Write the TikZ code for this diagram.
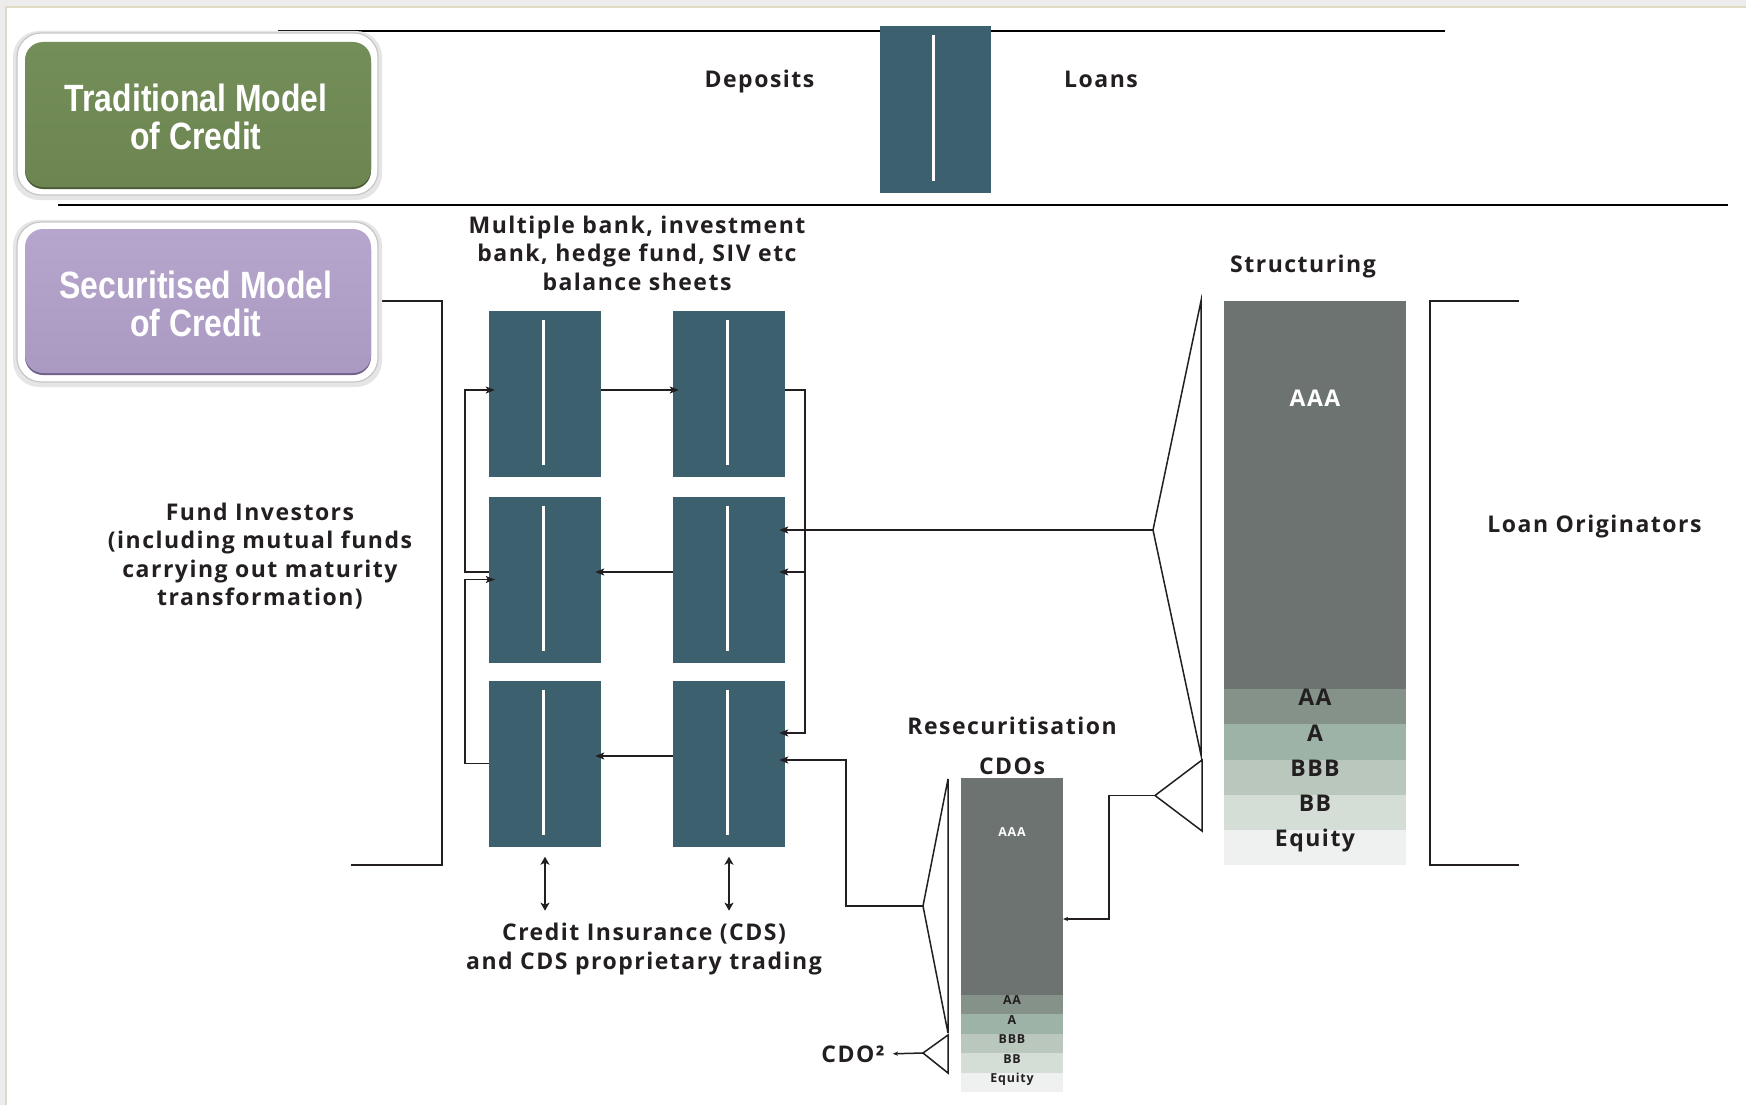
\documentclass[tikz,border=0pt]{standalone}
\usepackage{fontspec}
\usetikzlibrary{arrows.meta}
\newfontfamily\lblfont{Open Sans}[LetterSpace=6.5]
\newfontfamily\headfont{Liberation Sans}[FakeStretch=0.84]

\definecolor{ink}{RGB}{35,31,32}
\definecolor{bankblue}{RGB}{61,96,111}
\definecolor{trAAA}{RGB}{108,115,112}
\definecolor{trAA}{RGB}{132,146,138}
\definecolor{trA}{RGB}{157,179,167}
\definecolor{trBBB}{RGB}{185,199,189}
\definecolor{trBB}{RGB}{212,222,215}
\definecolor{trEq}{RGB}{238,241,239}
\definecolor{hgreen}{RGB}{108,133,81}
\definecolor{hgreenTop}{RGB}{116,142,89}
\definecolor{hgreenDark}{RGB}{74,92,55}
\definecolor{hpurple}{RGB}{170,153,193}
\definecolor{hpurpleTop}{RGB}{182,166,205}
\definecolor{hpurpleDark}{RGB}{112,96,138}
\definecolor{framegray}{RGB}{236,236,236}
\definecolor{frametan}{RGB}{224,220,196}

\begin{document}
\begin{tikzpicture}[x=1pt,y=-1pt,
  lbl/.style={font=\lblfont\bfseries\fontsize{23}{28.5}\selectfont, text=ink, align=center, inner sep=0pt},
  trlbl/.style={lbl, anchor=base},
  tinylbl/.style={font=\lblfont\bfseries\fontsize{12.4}{14}\selectfont, text=ink, inner sep=0pt, anchor=base},
  bank/.style={fill=bankblue, minimum width=112pt, minimum height=166pt, inner sep=0pt,
    path picture={\draw[white, line width=3pt]
      ([xshift=-2pt,yshift=-9pt]path picture bounding box.north) --
      ([xshift=-2pt,yshift=12pt]path picture bounding box.south);}},
  tranche/.style={inner sep=0pt, outer sep=0pt, draw=none},
  conn/.style={draw=ink, line width=1.5pt},
  arr/.style={conn, -{Stealth[length=9pt,width=7pt,inset=2pt]}, shorten >=-6pt},
  tinyarr/.style={conn, -{Stealth[length=5pt,width=4pt,inset=1pt]}},
  darr/.style={draw=ink, line width=2pt, {Stealth[length=8pt,width=9pt,inset=2pt]}-{Stealth[length=8pt,width=9pt,inset=2pt]}},
  brk/.style={draw=ink, line width=2pt},
  rule/.style={draw=black, line width=2pt},
  wedge/.style={draw=ink, line width=1.5pt, line join=miter},
  headbox/.style={rounded corners=18pt, minimum width=346pt, inner sep=0pt},
  headtext/.style={font=\headfont\bfseries\fontsize{38}{38}\selectfont, text=white, align=center, inner sep=0pt},
  rim/.style={fill=white, draw=black!22, line width=1.2pt, rounded corners=24pt},
  halo/.style={fill=black!10, rounded corners=26pt}
]
\useasboundingbox (0,0) rectangle (1746,1105);

% page frame
\fill[framegray] (0,0) rectangle (1746,1105);
\fill[white] (6,7) rectangle (1746,1105);
\draw[frametan, line width=1.5pt] (6,1105) -- (6,7) -- (1746,7);

% section rules
\draw[rule] (278,31) -- (1445,31);
\draw[rule] (58,205) -- (1728,205);

% traditional model: one balance sheet
\node[bank, minimum width=111pt, minimum height=167pt] (tb) at (935.5,109.5) {};
\node[trlbl] (dep) at (759.5,87.5) {Deposits};
\node[trlbl] (loans) at (1101,87.5) {Loans};

% brackets
\draw[brk] (350,301) -- (442,301) -- (442,865) -- (351,865);
\draw[brk] (1519,301) -- (1430,301) -- (1430,865) -- (1519,865);

% heading boxes
\fill[halo] (13,31) rectangle (382,200);
\draw[rim] (17,33) rectangle (378,195);
\fill[hgreenDark, rounded corners=18pt] (25,45) rectangle (371,189);
\node[headbox, minimum height=145pt, top color=hgreenTop, bottom color=hgreen] (trad) at (198,114.5) {};
\node[headtext] (tradtxt) at (196,117) {Traditional Model\\of Credit};

\fill[halo] (13,220) rectangle (382,387);
\draw[rim] (17,222) rectangle (378,382);
\fill[hpurpleDark, rounded corners=18pt] (25,232) rectangle (371,375);
\node[headbox, minimum height=144pt, top color=hpurpleTop, bottom color=hpurple] (secur) at (198,301) {};
\node[headtext] (securtxt) at (196,304) {Securitised Model\\of Credit};

% balance sheet grid
\node[bank] (b11) at (545,394) {};
\node[bank] (b12) at (729,394) {};
\node[bank] (b21) at (545,579.5) {};
\node[bank] (b22) at (729,579.5) {};
\node[bank] (b31) at (545,763.5) {};
\node[bank] (b32) at (729,763.5) {};

\node[lbl] (banks) at (637,253) {Multiple bank, investment\\bank, hedge fund, SIV etc\\balance sheets};
\node[lbl] (fund) at (260,556) {Fund Investors\\(including mutual funds\\carrying out maturity\\transformation)};
\node[lbl] (cds) at (644,949) {Credit Insurance (CDS)\\and CDS proprietary trading};

% flows between balance sheets
\draw[arr] (b31.west) -- ++(-24,0) |- (b21.west);
\draw[arr] ([yshift=7.5pt]b21.west) -- ++(-24,0) |- ([yshift=4pt]b11.west);
\draw[arr] ([yshift=4pt]b11.east) -- ([yshift=4pt]b12.west);
\draw[arr] ([yshift=4pt]b12.east) -- ++(20,0) |- ([yshift=30.5pt]b32.east);
\draw[arr] ([yshift=4pt]b12.east) ++(20,0) |- ([yshift=7.5pt]b22.east);
\draw[arr] ([yshift=7.5pt]b22.west) -- ([yshift=7.5pt]b21.east);
\draw[arr] ([yshift=7.5pt]b32.west) -- ([yshift=7.5pt]b31.east);

% credit insurance links
\draw[darr] ([yshift=-10pt]b31.south) -- ([yshift=-64pt]b31.south);
\draw[darr] ([yshift=-10pt]b32.south) -- ([yshift=-64pt]b32.south);

% structuring tranches
\node[tranche, fill=trAAA, minimum width=182pt, minimum height=388pt] (sAAA) at (1315,495) {};
\node[tranche, fill=trAA,  minimum width=182pt, minimum height=35pt] (sAA)  at (1315,706.5) {};
\node[tranche, fill=trA,   minimum width=182pt, minimum height=36pt] (sA)   at (1315,742) {};
\node[tranche, fill=trBBB, minimum width=182pt, minimum height=35pt] (sBBB) at (1315,777.5) {};
\node[tranche, fill=trBB,  minimum width=182pt, minimum height=35pt] (sBB)  at (1315,812.5) {};
\node[tranche, fill=trEq,  minimum width=182pt, minimum height=35pt] (sEq)  at (1315,847.5) {};
\node[trlbl, text=white] at (1315,406) {AAA};
\node[trlbl] at (1315,705.5) {AA};
\node[trlbl] at (1315,741) {A};
\node[trlbl] at (1315,776) {BBB};
\node[trlbl] at (1315,811) {BB};
\node[trlbl] at (1315,846.5) {Equity};
\node[lbl] (struct) at (1303,267) {Structuring};
\node[lbl] (orig) at (1594.5,527) {Loan Originators};

% resecuritisation tranches
\node[tranche, fill=trAAA, minimum width=102pt, minimum height=217pt] (cAAA) at (1012,886.5) {};
\node[tranche, fill=trAA,  minimum width=102pt, minimum height=19.5pt] (cAA)  at (1012,1004.5) {};
\node[tranche, fill=trA,   minimum width=102pt, minimum height=19.5pt] (cA)   at (1012,1024) {};
\node[tranche, fill=trBBB, minimum width=102pt, minimum height=19.5pt] (cBBB) at (1012,1043.5) {};
\node[tranche, fill=trBB,  minimum width=102pt, minimum height=19.5pt] (cBB)  at (1012,1063) {};
\node[tranche, fill=trEq,  minimum width=102pt, minimum height=19.5pt] (cEq)  at (1012,1082.5) {};
\node[tinylbl, text=white] at (1012,836.5) {AAA};
\node[tinylbl] at (1012,1004.5) {AA};
\node[tinylbl] at (1012,1024) {A};
\node[tinylbl] at (1012,1043.5) {BBB};
\node[tinylbl] at (1012,1063) {BB};
\node[tinylbl] at (1012,1082.5) {Equity};
\node[lbl] (resec) at (1012,726) {Resecuritisation};
\node[lbl] (cdos) at (1012,766) {CDOs};
\node[lbl] (cdo2) at (853,1054) {CDO²};

% tranche wedges
\coordinate (sApex) at (1153,530);
\coordinate (mApex) at (1155,795.5);
\coordinate (cApex) at (923,906);
\coordinate (qApex) at (923,1053);
\draw[wedge] (1201,301) -- (sApex) -- (1201,755) -- cycle;
\draw[wedge] (1202,760) -- (mApex) -- (1202,831) -- cycle;
\draw[wedge] (948,779) -- (cApex) -- (948,1033) -- cycle;
\draw[wedge] (948,1035) -- (qApex) -- (948,1073) -- cycle;

% flows from the tranches
\draw[arr] (sApex) -- ([yshift=49.5pt]b22.east);
\draw[tinyarr] (mApex) -- ++(-46,0) |- ([yshift=-32.5pt]cAAA.east);
\draw[arr] (cApex) -- ++(-77,0) |- ([yshift=3.5pt]b32.east);
\draw[tinyarr, shorten >=8pt] (qApex) -- (cdo2.east);
\end{tikzpicture}
\end{document}
